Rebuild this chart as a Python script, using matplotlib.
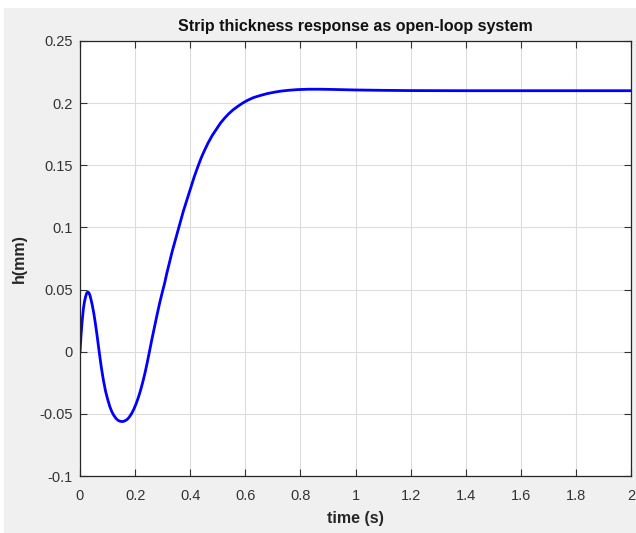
import numpy as np
import matplotlib
matplotlib.use("Agg")
import matplotlib.pyplot as plt
from matplotlib.patches import Rectangle

# step response (time in s, thickness in mm)
t = [0.000, 0.004, 0.008, 0.012, 0.016, 0.020, 0.024, 0.028, 0.032, 0.036,
     0.040, 0.045, 0.050, 0.055, 0.062, 0.069, 0.077, 0.085, 0.093, 0.100,
     0.108, 0.115, 0.122, 0.130, 0.138, 0.146, 0.155, 0.163, 0.170, 0.178,
     0.188, 0.196, 0.205, 0.213, 0.220, 0.228, 0.236, 0.244, 0.252, 0.260,
     0.270, 0.280, 0.290, 0.300, 0.307, 0.315, 0.325, 0.335, 0.345, 0.355,
     0.365, 0.375, 0.385, 0.395, 0.405, 0.415, 0.428, 0.440, 0.452, 0.465,
     0.480, 0.495, 0.510, 0.525, 0.540, 0.555, 0.570, 0.590, 0.610, 0.630,
     0.655, 0.680, 0.705, 0.730, 0.760, 0.790, 0.830, 0.870, 0.920, 1.000,
     1.100, 1.200, 1.400, 1.700, 2.000]
h = [0.000, 0.014, 0.025, 0.034, 0.040, 0.044, 0.047, 0.048, 0.0475, 0.0455,
     0.042, 0.037, 0.031, 0.024, 0.013, 0.001, -0.012, -0.023, -0.032, -0.038,
     -0.044, -0.048, -0.051, -0.0535, -0.0552, -0.0560, -0.0562, -0.0556, -0.0547, -0.0529,
     -0.0495, -0.046, -0.0411, -0.036, -0.0309, -0.0243, -0.017, -0.0088, 0.000, 0.009,
     0.0195, 0.030, 0.040, 0.049, 0.055, 0.063, 0.072, 0.081, 0.089, 0.097,
     0.105, 0.113, 0.120, 0.127, 0.134, 0.141, 0.149, 0.156, 0.162, 0.168,
     0.174, 0.179, 0.184, 0.188, 0.1915, 0.1945, 0.197, 0.200, 0.2025, 0.2045,
     0.2062, 0.2077, 0.2088, 0.2097, 0.2104, 0.2109, 0.2112, 0.2112, 0.2110, 0.2106,
     0.2103, 0.2101, 0.2100, 0.2100, 0.2100]

xticks = [0, 0.2, 0.4, 0.6, 0.8, 1, 1.2, 1.4, 1.6, 1.8, 2]
xticklabels = ["0", "0.2", "0.4", "0.6", "0.8", "1", "1.2", "1.4", "1.6", "1.8", "2"]
yticks = [-0.1, -0.05, 0, 0.05, 0.1, 0.15, 0.2, 0.25]
yticklabels = ["-0.1", "-0.05", "0", "0.05", "0.1", "0.15", "0.2", "0.25"]

plt.rcParams["font.family"] = ["Liberation Sans", "DejaVu Sans"]

W, H = 636, 533
fig = plt.figure(figsize=(W / 100, H / 100), dpi=100, facecolor="white")
# matlab-style grey figure panel (thin white margin top/left)
fig.patches.append(Rectangle((4 / W, 0), 1, 1 - 8 / H, transform=fig.transFigure,
                             facecolor="#f0f0f0", edgecolor="none", zorder=-10))

ax = fig.add_axes([80 / W, 1 - 476 / H, (631 - 80) / W, (476 - 41) / H])
ax.set_facecolor("white")
ax.plot(t, h, color="#0000ff", linewidth=2, solid_joinstyle="round")

ax.set_xlim(0, 2)
ax.set_ylim(-0.1, 0.25)
ax.set_xticks(xticks)
ax.set_xticklabels(xticklabels)
ax.set_yticks(yticks)
ax.set_yticklabels(yticklabels)
ax.grid(True, color="#dcdcdc", linewidth=0.8)
ax.set_axisbelow(True)
ax.tick_params(direction="in", top=True, right=True, length=5, width=0.8,
               colors="#333333", labelsize=10.5)
ax.tick_params(axis="x", pad=9)
ax.tick_params(axis="y", pad=5)
for s in ax.spines.values():
    s.set_color("#262626")
    s.set_linewidth(0.9)

ax.set_title("Strip thickness response as open-loop system", fontsize=11.5,
             fontweight="bold", color="#111111", pad=7)
ax.set_xlabel("time (s)", fontsize=11.5, fontweight="bold", color="#262626", labelpad=6)
ax.set_ylabel("h(mm)", fontsize=11.5, fontweight="bold", color="#262626", labelpad=9)

fig.savefig("out.png", dpi=100, facecolor=fig.get_facecolor())
